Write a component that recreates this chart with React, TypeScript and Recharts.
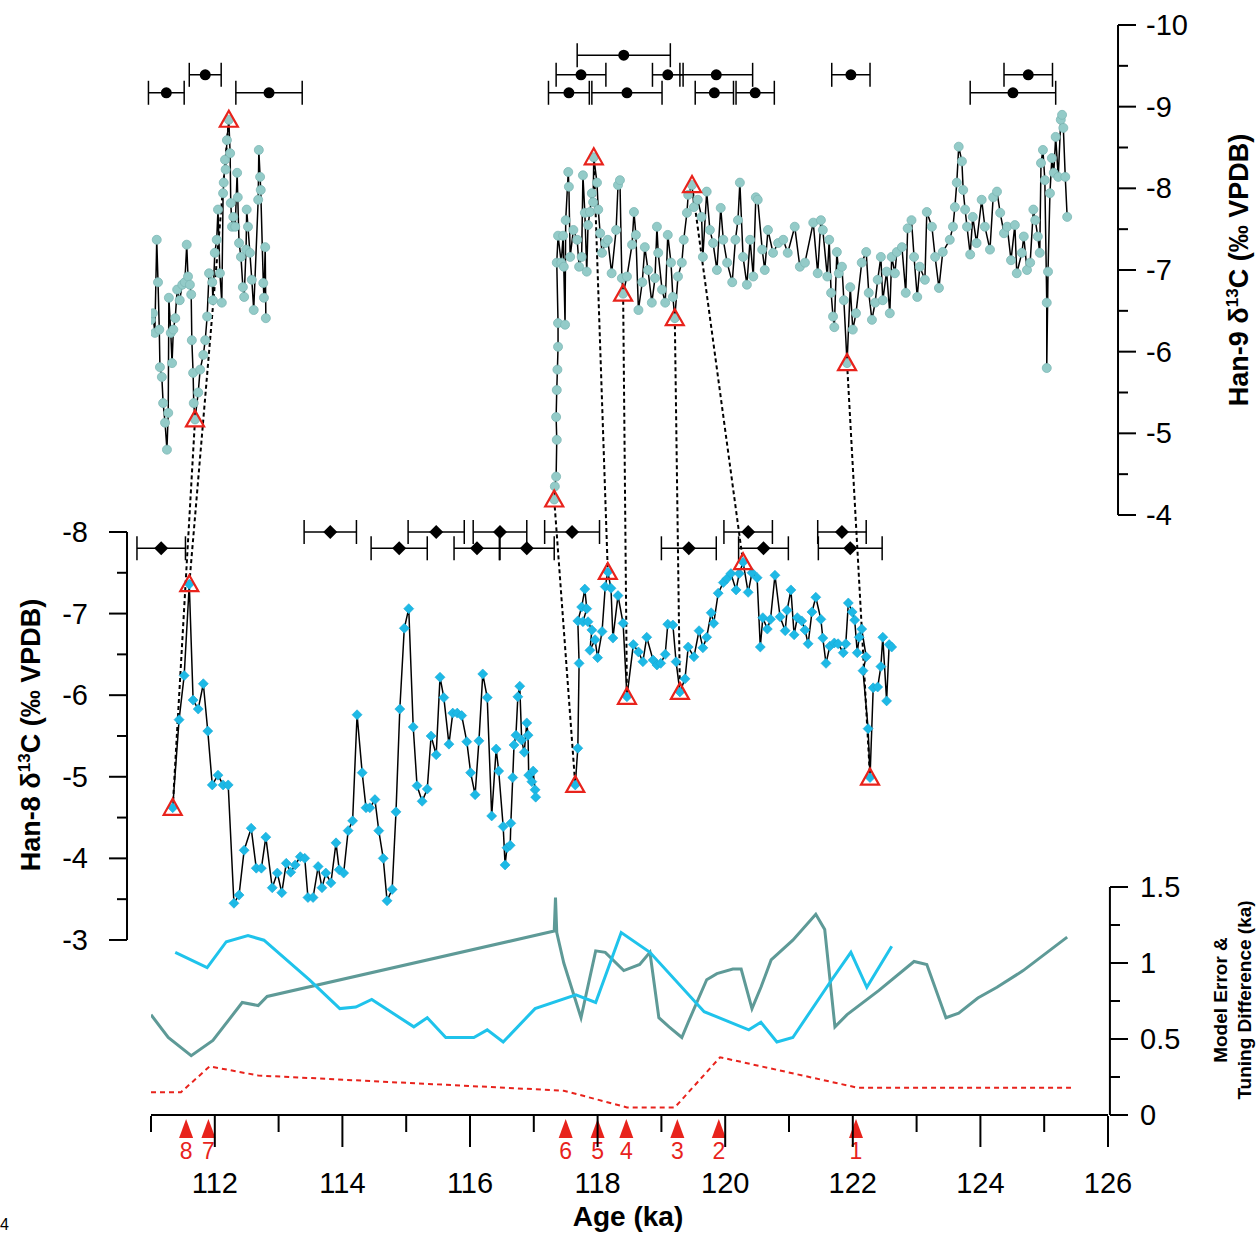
import React from 'react';
import { ComposedChart, Line, Scatter, XAxis, YAxis, ReferenceLine, ErrorBar } from 'recharts';

// Han-9 d13C, [age ka, ‰]
const han9A: number[][] = [
  [111.0, -6.39], [111.03, -6.47], [111.06, -6.23], [111.09, -7.37], [111.11, -6.85], [111.13, -6.27], [111.14, -5.81],
  [111.17, -5.69], [111.19, -5.37], [111.22, -5.13], [111.25, -4.8], [111.27, -5.25], [111.28, -6.66], [111.31, -6.23],
  [111.33, -5.86], [111.35, -6.27], [111.38, -6.41], [111.41, -6.76], [111.45, -6.63], [111.49, -6.82], [111.53, -6.85],
  [111.56, -7.31], [111.58, -6.92], [111.61, -6.82], [111.63, -6.7], [111.64, -6.14], [111.66, -5.74], [111.67, -5.37],
  [111.69, -5.17], [111.74, -5.5], [111.77, -5.78], [111.82, -5.96], [111.85, -6.14], [111.88, -6.43], [111.91, -6.96],
  [111.96, -6.85], [111.97, -6.63], [112.0, -7.21], [112.03, -7.37], [112.05, -7.74], [112.08, -6.96], [112.11, -6.6],
  [112.13, -7.94], [112.14, -8.07], [112.16, -8.35], [112.17, -8.23], [112.19, -8.59], [112.22, -8.84], [112.24, -8.43],
  [112.25, -7.82], [112.27, -7.53], [112.29, -7.65], [112.32, -7.53], [112.35, -8.19], [112.36, -7.89], [112.38, -7.33],
  [112.41, -7.16], [112.44, -6.79], [112.46, -6.67], [112.49, -7.25], [112.5, -7.74], [112.52, -7.53], [112.55, -7.21],
  [112.58, -6.88], [112.61, -6.51], [112.68, -7.86], [112.69, -8.47], [112.71, -8.14], [112.72, -7.98], [112.76, -6.84],
  [112.77, -6.66], [112.79, -7.28], [112.8, -6.41],
];
const han9B: number[][] = [
  [117.32, -4.19], [117.33, -4.35], [117.35, -4.47], [117.36, -4.92], [117.35, -5.2], [117.36, -5.53], [117.37, -5.78],
  [117.38, -6.06], [117.38, -6.35], [117.36, -7.09], [117.38, -7.42], [117.43, -7.09], [117.46, -7.42], [117.47, -7.04],
  [117.49, -6.33], [117.5, -7.61], [117.54, -8.2], [117.55, -8.02], [117.57, -7.16], [117.62, -7.49], [117.68, -7.37],
  [117.71, -7.04], [117.75, -7.16], [117.77, -8.16], [117.8, -7.7], [117.83, -6.98], [117.85, -7.55], [117.88, -7.71],
  [117.91, -7.94], [117.93, -7.83], [117.94, -8.38], [117.99, -8.07], [118.01, -7.74], [118.04, -7.45], [118.07, -7.21],
  [118.12, -7.33], [118.16, -7.37], [118.22, -6.96], [118.29, -7.49], [118.32, -8.04], [118.35, -8.1], [118.38, -6.9],
  [118.4, -6.71], [118.46, -6.92], [118.54, -7.31], [118.57, -7.71], [118.6, -7.43], [118.64, -6.51], [118.7, -6.85],
  [118.74, -7.28], [118.79, -7.0], [118.85, -6.6], [118.9, -6.9], [118.93, -7.53], [118.95, -7.21], [119.01, -6.76],
  [119.06, -6.6], [119.1, -7.43], [119.15, -7.09], [119.18, -6.67], [119.21, -6.41], [119.26, -6.92], [119.32, -7.09],
  [119.35, -7.37], [119.4, -7.7], [119.42, -7.92], [119.48, -8.04], [119.51, -7.77], [119.57, -7.86], [119.63, -7.65],
  [119.65, -7.16], [119.71, -7.96], [119.76, -7.49], [119.81, -7.33], [119.87, -7.0], [119.93, -7.76], [119.97, -7.37],
  [120.03, -7.09], [120.11, -6.85], [120.16, -7.37], [120.2, -7.61], [120.23, -8.07], [120.28, -7.16], [120.34, -6.82],
  [120.39, -7.37], [120.44, -6.92], [120.48, -7.89], [120.51, -7.86], [120.58, -7.25], [120.62, -7.0], [120.67, -7.49],
  [120.75, -7.21], [120.83, -7.33], [120.91, -7.37], [120.98, -7.21], [121.09, -7.53], [121.17, -7.04], [121.25, -7.09],
  [121.38, -7.58], [121.45, -6.96], [121.5, -7.61], [121.53, -7.49], [121.6, -6.92], [121.63, -7.37], [121.66, -6.72],
  [121.69, -6.43], [121.71, -6.3], [121.75, -7.22], [121.78, -6.96], [121.83, -7.04], [121.86, -6.63], [121.91, -5.86],
  [121.96, -6.79], [122.0, -6.27], [122.05, -6.47], [122.14, -7.09], [122.21, -7.22], [122.25, -6.72], [122.3, -6.39],
  [122.35, -6.6], [122.39, -6.88], [122.44, -7.16], [122.47, -6.63], [122.53, -6.98], [122.58, -6.47], [122.61, -7.16],
  [122.66, -6.96], [122.69, -7.22], [122.77, -7.28], [122.83, -6.72], [122.86, -7.51], [122.92, -7.61], [122.96, -7.16],
  [123.01, -6.67], [123.05, -7.04], [123.13, -6.88], [123.16, -7.71], [123.24, -7.53], [123.29, -7.16], [123.35, -6.78],
  [123.41, -7.22], [123.52, -7.37], [123.57, -7.53], [123.6, -7.77], [123.63, -8.07], [123.66, -8.51], [123.71, -8.33],
  [123.73, -7.98], [123.76, -7.74], [123.79, -7.53], [123.84, -7.19], [123.88, -7.65], [123.94, -7.33], [124.02, -7.86],
  [124.07, -7.53], [124.15, -7.25], [124.2, -7.89], [124.26, -7.96], [124.31, -7.7], [124.37, -7.45], [124.42, -7.53],
  [124.48, -7.12], [124.54, -7.55], [124.57, -6.96], [124.65, -7.21], [124.68, -7.41], [124.73, -7.0], [124.78, -7.09],
  [124.83, -7.74], [124.86, -7.61], [124.9, -7.41], [124.93, -7.21], [124.95, -8.31], [124.98, -8.47], [125.01, -8.1],
  [125.04, -6.6], [125.04, -5.8], [125.06, -6.98], [125.09, -7.94], [125.12, -8.37], [125.15, -8.19], [125.18, -8.63],
  [125.22, -8.14], [125.26, -8.84], [125.28, -8.9], [125.3, -8.74], [125.33, -8.14], [125.36, -7.65],
];

// Han-8 d13C, [age ka, ‰]
const han8A: number[][] = [
  [111.34, -4.62], [111.44, -5.7], [111.52, -6.24], [111.6, -7.36], [111.66, -5.94], [111.74, -5.83], [111.82, -6.14],
  [111.89, -5.56], [111.96, -4.9], [112.05, -5.02], [112.13, -4.9], [112.21, -4.9], [112.3, -3.45], [112.38, -3.55],
  [112.46, -4.1], [112.57, -4.37], [112.65, -3.88], [112.73, -3.88], [112.8, -4.26], [112.9, -3.64], [112.98, -3.82],
  [113.05, -3.58], [113.12, -3.94], [113.19, -3.83], [113.26, -3.92], [113.34, -4.02], [113.41, -4.0], [113.46, -3.52],
  [113.54, -3.52], [113.62, -3.9], [113.68, -3.64], [113.74, -3.82], [113.82, -3.7], [113.9, -4.19], [113.95, -3.86],
  [114.02, -3.82], [114.09, -4.34], [114.16, -4.46], [114.23, -5.76], [114.31, -5.05], [114.37, -4.62], [114.43, -4.62],
  [114.51, -4.72], [114.57, -4.34], [114.64, -4.0], [114.7, -3.48], [114.78, -3.62], [114.84, -4.57], [114.9, -5.83],
  [114.97, -6.82], [115.04, -7.06], [115.11, -5.61], [115.17, -4.89], [115.25, -4.7], [115.33, -4.85], [115.39, -5.5],
  [115.47, -5.27], [115.53, -6.22], [115.59, -5.97], [115.67, -5.4], [115.73, -5.78], [115.8, -5.78], [115.87, -5.75],
  [115.95, -5.43], [116.01, -5.05], [116.08, -4.78], [116.14, -5.44], [116.2, -6.26], [116.27, -5.97], [116.34, -4.52],
  [116.41, -5.34], [116.45, -5.07], [116.52, -4.39], [116.55, -3.92], [116.58, -4.13], [116.63, -4.16], [116.64, -4.43],
  [116.67, -4.99], [116.69, -5.39], [116.72, -5.51], [116.75, -5.98], [116.78, -6.11], [116.81, -5.45], [116.85, -5.3],
  [116.89, -5.66], [116.91, -5.51], [116.92, -5.02], [116.97, -4.94], [116.99, -5.07], [117.02, -4.84], [117.03, -4.75],
];
const han8B: number[][] = [
  [117.65, -4.9], [117.69, -5.35], [117.71, -6.39], [117.69, -6.91], [117.75, -7.08], [117.8, -7.3], [117.83, -7.06],
  [117.77, -6.9], [117.85, -6.9], [117.91, -6.8], [117.88, -6.55], [117.96, -6.68], [118.0, -6.46], [118.07, -6.78],
  [118.12, -7.33], [118.16, -7.51], [118.21, -7.31], [118.24, -6.7], [118.32, -7.22], [118.4, -6.88], [118.46, -5.98],
  [118.56, -6.62], [118.64, -6.53], [118.71, -6.41], [118.77, -6.71], [118.87, -6.43], [118.93, -6.37], [118.99, -6.39],
  [119.06, -6.5], [119.1, -6.87], [119.18, -6.86], [119.23, -6.41], [119.29, -6.04], [119.37, -6.2], [119.42, -6.59],
  [119.51, -6.47], [119.59, -6.79], [119.65, -6.58], [119.71, -6.71], [119.78, -7.01], [119.82, -6.88], [119.89, -7.25],
  [119.97, -7.38], [120.03, -7.43], [120.09, -7.49], [120.17, -7.29], [120.22, -7.49], [120.28, -7.63], [120.36, -7.26],
  [120.42, -7.5], [120.5, -7.44], [120.55, -6.59], [120.59, -6.95], [120.66, -6.81], [120.71, -6.93], [120.78, -7.47],
  [120.86, -6.96], [120.94, -6.79], [120.97, -7.04], [121.03, -7.29], [121.08, -6.74], [121.13, -6.95], [121.2, -6.91],
  [121.25, -6.8], [121.3, -6.63], [121.36, -7.02], [121.42, -7.2], [121.5, -6.93], [121.53, -6.7], [121.58, -6.39],
  [121.64, -6.6], [121.71, -6.64], [121.77, -6.63], [121.85, -6.52], [121.89, -6.63], [121.93, -7.13], [121.99, -7.02],
  [122.03, -6.92], [122.07, -6.52], [122.1, -6.71], [122.14, -6.81], [122.21, -6.47], [122.16, -6.3], [122.24, -5.59],
  [122.27, -4.99], [122.32, -6.09], [122.39, -6.1], [122.44, -6.35], [122.47, -6.71], [122.53, -5.93], [122.57, -6.62],
  [122.61, -6.59],
];

// tie points (Han-9 -> Han-8)
const tie9: number[][] = [
  [111.69, -5.17], [112.22, -8.84], [117.32, -4.19], [117.94, -8.38], [118.4, -6.71], [119.21, -6.41], [119.48, -8.04], [121.91, -5.86],
];
const tie8: number[][] = [
  [111.34, -4.62], [111.6, -7.36], [117.65, -4.9], [118.16, -7.51], [118.46, -5.98], [119.29, -6.04], [120.28, -7.63], [122.27, -4.99],
];

// U-Th dates [age, y-position, 2σ]
const dates9: number[][] = [
  [111.24, -9.17, 0.28], [112.85, -9.17, 0.52], [111.85, -9.39, 0.25], [118.41, -9.63, 0.73], [117.74, -9.39, 0.39],
  [119.1, -9.39, 0.24], [119.86, -9.39, 0.57], [117.55, -9.17, 0.32], [118.46, -9.17, 0.55], [119.83, -9.17, 0.3],
  [120.47, -9.17, 0.3], [121.97, -9.39, 0.3], [124.75, -9.39, 0.38], [124.51, -9.17, 0.67],
];
const dates8: number[][] = [
  [111.16, -7.8, 0.38], [113.81, -8.0, 0.41], [114.89, -7.8, 0.44], [115.47, -8.0, 0.44], [116.11, -7.8, 0.36],
  [116.47, -8.0, 0.42], [116.89, -7.8, 0.43], [117.6, -8.0, 0.43], [119.43, -7.8, 0.43], [120.36, -8.0, 0.38],
  [120.6, -7.8, 0.39], [121.83, -8.0, 0.38], [121.96, -7.8, 0.5],
];

// model error & tuning difference (ka)
const modelErr: number[][] = [
  [111.0, 0.66], [111.27, 0.51], [111.63, 0.39], [111.97, 0.49], [112.43, 0.74], [112.68, 0.72], [112.82, 0.78],
  [117.32, 1.21], [117.34, 1.43], [117.36, 1.2], [117.47, 1.0], [117.74, 0.64], [117.97, 1.08], [118.12, 1.07],
  [118.41, 0.95], [118.66, 0.99], [118.82, 1.07], [118.96, 0.64], [119.12, 0.58], [119.32, 0.51], [119.42, 0.61],
  [119.71, 0.89], [119.87, 0.93], [120.12, 0.96], [120.25, 0.96], [120.42, 0.7], [120.56, 0.84], [120.72, 1.02],
  [121.06, 1.15], [121.42, 1.32], [121.56, 1.22], [121.72, 0.58], [121.91, 0.66], [122.41, 0.82], [122.96, 1.01],
  [123.16, 0.99], [123.46, 0.64], [123.66, 0.67], [123.96, 0.77], [124.26, 0.84], [124.67, 0.95], [125.36, 1.17],
];
const tuneDiff: number[][] = [
  [111.38, 1.07], [111.88, 0.97], [112.18, 1.14], [112.52, 1.18], [112.77, 1.15], [113.48, 0.89], [113.96, 0.7],
  [114.21, 0.71], [114.46, 0.76], [115.12, 0.58], [115.33, 0.64], [115.62, 0.51], [116.06, 0.51], [116.27, 0.56],
  [116.52, 0.48], [117.02, 0.7], [117.66, 0.79], [117.97, 0.74], [118.37, 1.2], [118.82, 1.07], [119.67, 0.68],
  [120.37, 0.56], [120.56, 0.61], [120.81, 0.48], [121.06, 0.51], [121.67, 0.89], [121.97, 1.07], [122.22, 0.84],
  [122.61, 1.11],
];
const ageErr: number[][] = [
  [111.0, 0.15], [111.47, 0.15], [111.92, 0.32], [112.68, 0.26], [117.47, 0.16], [118.46, 0.05], [119.21, 0.05],
  [119.92, 0.38], [122.07, 0.18], [125.42, 0.18],
];
const tieAges = [122.05, 119.9, 119.25, 118.45, 118.0, 117.5, 111.9, 111.55];
const tieLabels = ['1', '2', '3', '4', '5', '6', '7', '8'];

const xTicks = Array.from({ length: 16 }, (_, i) => 111 + i);
const h9Ticks = Array.from({ length: 13 }, (_, i) => -10 + i * 0.5);
const h8Ticks = Array.from({ length: 11 }, (_, i) => -8 + i * 0.5);
const mTicks = [0, 0.25, 0.5, 0.75, 1, 1.25, 1.5];

const D9: [number, number] = [-10, 3.347];
const D8: [number, number] = [-14.213, -0.855];
const DM: [number, number] = [0, 7.171];

const toObj = (arr: number[][]) => arr.map(([a, v]) => ({ a, v }));
// express a Han-8 value on the Han-9 axis (both axes share the plot height)
const h8to9 = (v: number) => D9[0] + ((v - D8[0]) / (D8[1] - D8[0])) * (D9[1] - D9[0]);

const FONT = 'Arial, "Liberation Sans", sans-serif';

const XTick = (p: any) => {
  const v = p.payload.value;
  const major = v % 2 === 0;
  return (
    <g>
      <line x1={p.x} x2={p.x} y1={1116} y2={major ? 1147 : 1132} stroke="#000" strokeWidth={2} />
      {major && (
        <text x={p.x} y={1193} textAnchor="middle" fontSize={29} fontFamily={FONT} fill="#000">{v}</text>
      )}
    </g>
  );
};

const H9Tick = (p: any) => {
  const v = p.payload.value;
  const major = Number.isInteger(v);
  return (
    <g>
      <line x1={1118} x2={1118 + (major ? 18 : 10)} y1={p.y} y2={p.y} stroke="#000" strokeWidth={2} />
      {major && (
        <text x={1146} y={p.y + 10} fontSize={29} fontFamily={FONT} fill="#000">{v}</text>
      )}
    </g>
  );
};

const MTick = (p: any) => {
  const v = p.payload.value;
  const major = v % 0.5 === 0;
  return (
    <g>
      <line x1={1110} x2={1110 + (major ? 18 : 10)} y1={p.y} y2={p.y} stroke="#000" strokeWidth={2} />
      {major && (
        <text x={1140} y={p.y + 10} fontSize={29} fontFamily={FONT} fill="#000">{v}</text>
      )}
    </g>
  );
};

const H8Tick = (p: any) => {
  const v = p.payload.value;
  const major = Number.isInteger(v);
  return (
    <g>
      <line x1={127} x2={127 - (major ? 18 : 10)} y1={p.y} y2={p.y} stroke="#000" strokeWidth={2} />
      {major && (
        <text x={88} y={p.y + 10} textAnchor="end" fontSize={29} fontFamily={FONT} fill="#000">{v}</text>
      )}
    </g>
  );
};

const Dot9 = (p: any) => (p.cx == null ? null : <circle key={p.index} cx={p.cx} cy={p.cy} r={4.5} fill="#93cbc8" stroke="#7db8b5" strokeWidth={0.8} />);
const Dot8 = (p: any) => {
  if (p.cx == null) return null;
  const s = 5;
  return <polygon key={p.index} points={`${p.cx},${p.cy - s} ${p.cx + s},${p.cy} ${p.cx},${p.cy + s} ${p.cx - s},${p.cy}`} fill="#1db9e6" stroke="#17a8d4" strokeWidth={0.6} />;
};
const Tri = (p: any) => (
  <polygon points={`${p.cx},${p.cy - 9} ${p.cx + 9},${p.cy + 7} ${p.cx - 9},${p.cy + 7}`} fill="none" stroke="#e8231c" strokeWidth={2.2} />
);
const Circ = (p: any) => <circle cx={p.cx} cy={p.cy} r={5.5} fill="#000" />;
const Diam = (p: any) => (
  <polygon points={`${p.cx},${p.cy - 7} ${p.cx + 7},${p.cy} ${p.cx},${p.cy + 7} ${p.cx - 7},${p.cy}`} fill="#000" />
);
const Arrow = (p: any) => (
  <g>
    <polygon points={`${p.cx},${p.cy + 4} ${p.cx + 7},${p.cy + 23} ${p.cx - 7},${p.cy + 23}`} fill="#e8231c" />
    <text x={p.cx} y={p.cy + 44} textAnchor="middle" fontSize={23} fontFamily={FONT} fill="#e8231c">{p.payload.label}</text>
  </g>
);

export default function App() {
  const d9 = dates9.map(([a, v, e]) => ({ a, v, e }));
  const d8 = dates8.map(([a, v, e]) => ({ a, v, e }));
  const arrows = tieAges.map((a, i) => ({ a, v: 0, label: tieLabels[i] }));
  return (
    <div style={{ position: 'relative', width: 1260, height: 1233, background: '#fff' }}>
      <style>{'body{margin:0}'}</style>
      <ComposedChart width={1260} height={1233} margin={{ top: 25, right: 52, bottom: 58, left: 101 }}>
        <XAxis dataKey="a" type="number" domain={[111, 126]} allowDataOverflow ticks={xTicks} interval={0}
          height={60} tick={XTick} tickLine={false} axisLine={{ stroke: '#000', strokeWidth: 2 }} />
        <XAxis xAxisId="free" dataKey="a" type="number" domain={[111, 126]} hide />
        <YAxis yAxisId="h9" orientation="right" type="number" domain={D9} reversed allowDataOverflow
          ticks={h9Ticks} interval={0} width={50} axisLine={false} tickLine={false} tick={H9Tick} />
        <YAxis yAxisId="m" orientation="right" type="number" domain={DM} allowDataOverflow
          ticks={mTicks} interval={0} width={50} axisLine={false} tickLine={false} tick={MTick} />
        <YAxis yAxisId="h8" orientation="left" type="number" domain={D8} reversed allowDataOverflow
          ticks={h8Ticks} interval={0} width={50} axisLine={false} tickLine={false} tick={H8Tick} />
        <YAxis yAxisId="mfree" type="number" domain={DM} hide />

        <ReferenceLine yAxisId="h9" ifOverflow="visible" stroke="#000" strokeWidth={2}
          segment={[{ x: 126.157, y: -10 }, { x: 126.157, y: -4 }]} />
        <ReferenceLine yAxisId="h8" ifOverflow="visible" stroke="#000" strokeWidth={2}
          segment={[{ x: 110.624, y: -8 }, { x: 110.624, y: -3 }]} />
        <ReferenceLine yAxisId="m" ifOverflow="visible" stroke="#000" strokeWidth={2}
          segment={[{ x: 126.03, y: 0 }, { x: 126.03, y: 1.5 }]} />

        {tie9.map((t, i) => (
          <ReferenceLine key={'tie' + i} yAxisId="h9" ifOverflow="visible" stroke="#000" strokeWidth={2} strokeDasharray="4 3"
            segment={[{ x: t[0], y: t[1] }, { x: tie8[i][0], y: h8to9(tie8[i][1]) }]} />
        ))}

        <Line yAxisId="m" data={toObj(modelErr)} dataKey="v" stroke="#5e9a97" strokeWidth={3} dot={false} isAnimationActive={false} />
        <Line yAxisId="m" data={toObj(tuneDiff)} dataKey="v" stroke="#1fc3eb" strokeWidth={3} dot={false} isAnimationActive={false} />
        <Line yAxisId="m" data={toObj(ageErr)} dataKey="v" stroke="#e8231c" strokeWidth={2} strokeDasharray="5 4" dot={false} isAnimationActive={false} />

        <Line yAxisId="h9" data={toObj(han9A)} dataKey="v" stroke="#000" strokeWidth={1.5} dot={Dot9} isAnimationActive={false} />
        <Line yAxisId="h9" data={toObj(han9B)} dataKey="v" stroke="#000" strokeWidth={1.5} dot={Dot9} isAnimationActive={false} />
        <Line yAxisId="h8" data={toObj(han8A)} dataKey="v" stroke="#000" strokeWidth={1.5} dot={Dot8} isAnimationActive={false} />
        <Line yAxisId="h8" data={toObj(han8B)} dataKey="v" stroke="#000" strokeWidth={1.5} dot={Dot8} isAnimationActive={false} />

        <Scatter yAxisId="h9" data={toObj(tie9)} dataKey="v" shape={Tri} isAnimationActive={false} />
        <Scatter yAxisId="h8" data={toObj(tie8)} dataKey="v" shape={Tri} isAnimationActive={false} />

        <Scatter yAxisId="h9" data={d9} dataKey="v" shape={Circ} isAnimationActive={false}>
          <ErrorBar dataKey="e" direction="x" width={12} stroke="#000" strokeWidth={1.5} />
        </Scatter>
        <Scatter yAxisId="h9" data={d8.map((d) => ({ ...d, v: h8to9(d.v) }))} dataKey="v" shape={Diam} isAnimationActive={false}>
          <ErrorBar dataKey="e" direction="x" width={12} stroke="#000" strokeWidth={1.5} />
        </Scatter>

        <Scatter xAxisId="free" yAxisId="mfree" data={arrows} dataKey="v" shape={Arrow} isAnimationActive={false} />
      </ComposedChart>

      <svg width={1260} height={1233} style={{ position: 'absolute', left: 0, top: 0, pointerEvents: 'none' }} fontFamily={FONT}>
        <text transform="translate(1248,270) rotate(-90)" textAnchor="middle" fontSize={27} fontWeight="bold">
          Han-9 δ<tspan fontSize={17} dy={-10}>13</tspan><tspan dy={10}>C (‰ VPDB)</tspan>
        </text>
        <text transform="translate(40,735) rotate(-90)" textAnchor="middle" fontSize={27} fontWeight="bold">
          Han-8 δ<tspan fontSize={17} dy={-10}>13</tspan><tspan dy={10}>C (‰ VPDB)</tspan>
        </text>
        <text transform="translate(1227,1000) rotate(-90)" textAnchor="middle" fontSize={19} fontWeight="bold">Model Error &amp;</text>
        <text transform="translate(1251,1000) rotate(-90)" textAnchor="middle" fontSize={19} fontWeight="bold">Tuning Difference (ka)</text>
        <text x={628} y={1226} textAnchor="middle" fontSize={28} fontWeight="bold">Age (ka)</text>
        <text x={0} y={1230} fontSize={16}>4</text>
      </svg>
    </div>
  );
}
